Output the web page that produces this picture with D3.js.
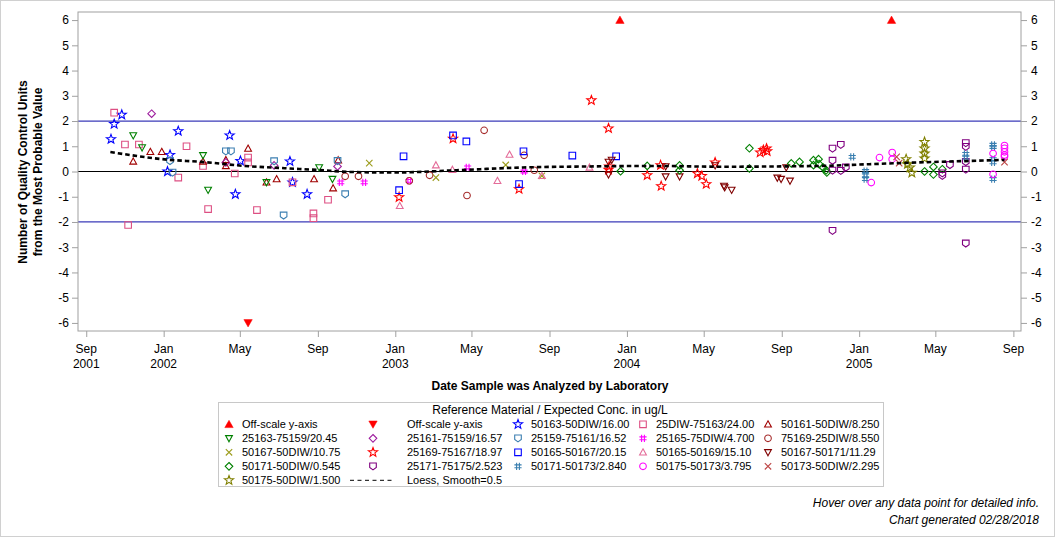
<!DOCTYPE html>
<html><head><meta charset="utf-8">
<script src="https://cdn.jsdelivr.net/npm/d3@7"></script>
<style>
body{margin:0;background:#fff}
text{font-family:"Liberation Sans",Arial,sans-serif;fill:#000}
</style>
</head><body>
<svg id="c" width="1056" height="538"></svg>
<script>
// ---------------- DATA ----------------
const offUp = [["2003-12-21",6],["2005-02-21",6]];
const offDown = [["2002-05-14",-6]];
const s50163_16 = [["2001-10-10",1.28],["2001-10-15",1.88],["2001-10-27",2.25],["2002-01-07",0.0],["2002-01-11",0.66],["2002-01-24",1.6],["2002-04-15",1.43],["2002-04-24",-0.9],["2002-05-02",0.42],["2002-07-19",0.4],["2002-07-23",-0.43],["2002-08-15",-0.9]];
const s25DIW_24 = [["2001-10-15",2.33],["2001-11-01",1.07],["2001-11-06",-2.12],["2001-11-23",1.07],["2002-01-24",-0.24],["2002-02-06",1.0],["2002-03-04",0.22],["2002-03-12",-1.49],["2002-04-23",-0.08],["2002-05-14",0.55],["2002-05-14",0.36],["2002-05-28",-1.53],["2002-07-23",-0.43],["2002-08-25",-1.66],["2002-08-25",-1.85],["2002-09-17",-1.12]];
const s50161_8 = [["2001-11-14",0.4],["2001-12-11",0.78],["2001-12-29",0.78],["2002-03-04",0.4],["2002-04-09",0.46],["2002-04-09",0.22],["2002-05-14",0.91],["2002-06-12",-0.43],["2002-06-28",-0.3],["2002-08-26",-0.3],["2002-09-25",-0.66],["2002-10-03",0.45]];
const s25163_20 = [["2001-11-14",1.43],["2001-11-28",0.95],["2002-03-04",0.64],["2002-03-12",-0.73],["2002-06-12",-0.43],["2002-09-03",0.16],["2002-09-24",-0.3]];
const s25161_16 = [["2001-12-13",2.29],["2002-04-09",0.36],["2002-06-24",0.24],["2002-10-02",0.2]];
const s25159_16 = [["2002-01-11",0.42],["2002-01-15",-0.04],["2002-04-09",0.8],["2002-04-17",0.8],["2002-06-24",0.41],["2002-07-09",-1.74],["2002-10-02",0.42],["2002-10-14",-0.9]];
const s25165_4 = [["2002-10-07",-0.43],["2002-11-13",-0.43],["2003-01-23",-0.37],["2003-04-25",0.16],["2003-07-23",0.0]];
const s75169_8 = [["2002-10-14",-0.19],["2002-11-04",-0.19],["2003-01-23",-0.37],["2003-02-24",-0.15],["2003-04-24",-0.95],["2003-05-21",1.63],["2003-07-23",0.64],["2003-08-08",0.05]];
const s50167_10 = [["2002-11-21",0.33],["2003-03-06",-0.24],["2003-06-24",0.26],["2003-08-20",-0.17]];
const s25169_18 = [["2003-01-07",-1.02],["2003-04-02",1.3],["2003-07-15",-0.7],["2003-11-06",2.82],["2003-12-03",1.71],["2003-12-03",0.07],["2003-12-04",0.2],["2004-02-02",-0.15],["2004-02-23",0.25],["2004-02-24",-0.58],["2004-04-21",-0.08],["2004-04-28",-0.18],["2004-05-05",-0.5],["2004-05-19",0.36],["2004-07-29",0.75],["2004-08-03",0.85],["2004-08-08",0.91],["2004-08-09",0.8]];
const s50165_20 = [["2003-01-07",-0.74],["2003-01-14",0.6],["2003-04-02",1.43],["2003-04-23",1.19],["2003-07-15",-0.5],["2003-07-22",0.8],["2003-10-07",0.63],["2003-12-15",0.6]];
const s50165_15 = [["2003-01-08",-1.36],["2003-03-06",0.25],["2003-04-01",0.07],["2003-06-11",-0.37],["2003-06-30",0.67],["2003-08-20",-0.17],["2003-11-03",0.16]];
const s50167_11 = [["2003-12-03",0.38],["2003-12-08",0.46],["2003-12-03",-0.12],["2004-03-02",0.2],["2004-03-02",-0.2],["2004-03-24",-0.2],["2004-05-19",0.24],["2004-06-02",-0.57],["2004-06-03",-0.63],["2004-06-14",-0.73],["2004-08-25",-0.25],["2004-08-31",-0.3],["2004-09-08",0.16],["2004-09-14",-0.37]];
const s50171_0 = [["2003-12-22",0.01],["2004-02-02",0.22],["2004-03-24",0.24],["2004-03-24",0.05],["2004-07-12",0.92],["2004-07-12",0.12],["2004-09-16",0.32],["2004-09-29",0.38],["2004-10-21",0.45],["2004-10-29",0.49],["2004-10-21",0.25],["2004-10-30",0.29],["2004-11-05",0.16],["2004-11-10",0.05],["2004-11-11",-0.04],["2005-04-14",0.0],["2005-04-28",0.18],["2005-04-28",-0.12],["2005-05-12",0.09]];
const s25171_2 = [["2004-11-20",0.91],["2004-11-20",0.43],["2004-11-20",0.04],["2004-11-20",-2.35],["2004-12-03",1.06],["2004-12-03",0.03],["2004-12-11",0.16],["2005-05-12",-0.07],["2005-05-12",-0.17],["2005-05-24",0.26],["2005-06-18",1.13],["2005-06-18",0.98],["2005-06-18",0.38],["2005-06-18",0.08],["2005-06-18",-2.85]];
const s50171_2 = [["2004-12-21",0.58],["2005-01-11",0.02],["2005-01-11",-0.15],["2005-01-11",-0.3],["2005-06-18",0.7],["2005-06-18",0.55],["2005-07-31",1.06],["2005-07-31",0.97],["2005-07-31",0.49],["2005-07-31",0.36],["2005-07-31",-0.3]];
const s50175_3 = [["2005-01-20",-0.44],["2005-02-02",0.55],["2005-02-22",0.75],["2005-02-22",0.49],["2005-07-31",0.71],["2005-07-31",-0.11],["2005-08-18",1.03],["2005-08-18",0.92],["2005-08-18",0.78],["2005-08-18",0.65],["2005-08-18",0.59]];
const s50173_2 = [["2005-03-01",0.58],["2005-03-05",0.33],["2005-08-18",0.37]];
const s50175_1 = [["2005-03-16",0.49],["2005-03-18",0.29],["2005-03-22",0.16],["2005-03-25",-0.05],["2005-04-14",1.17],["2005-04-14",0.91],["2005-04-14",0.71],["2005-04-14",0.52]];

const loessDates = ["2001-10-09","2002-01-07","2002-03-02","2002-05-09","2002-07-11","2002-09-01","2002-10-24","2003-01-01","2003-04-08","2003-07-21","2003-11-03","2004-02-16","2004-05-27","2004-10-31","2005-01-17","2005-04-06","2005-06-25","2005-08-18"];
const loessValues = [0.77,0.47,0.38,0.22,0.13,0.06,-0.02,-0.04,0.05,0.16,0.20,0.22,0.19,0.22,0.29,0.36,0.42,0.46];

const xTickDates = ["2001-09-01","2002-01-01","2002-05-01","2002-09-01","2003-01-01","2003-05-01","2003-09-01","2004-01-01","2004-05-01","2004-09-01","2005-01-01","2005-05-01","2005-09-01"];
const xTickLabels = [["Sep","2001"],["Jan","2002"],["May"],["Sep"],["Jan","2003"],["May"],["Sep"],["Jan","2004"],["May"],["Sep"],["Jan","2005"],["May"],["Sep"]];
const yTicks = [-6,-5,-4,-3,-2,-1,0,1,2,3,4,5,6];
const refLines = [2,-2];

const seriesNames = ["Off-scale y-axis","Off-scale y-axis","50163-50DIW/16.00","25DIW-75163/24.00","50161-50DIW/8.250",
 "25163-75159/20.45","25161-75159/16.57","25159-75161/16.52","25165-75DIW/4.700","75169-25DIW/8.550",
 "50167-50DIW/10.75","25169-75167/18.97","50165-50167/20.15","50165-50169/15.10","50167-50171/11.29",
 "50171-50DIW/0.545","25171-75175/2.523","50171-50173/2.840","50175-50173/3.795","50173-50DIW/2.295",
 "50175-50DIW/1.500"];
const seriesData = [offUp,offDown,s50163_16,s25DIW_24,s50161_8,
 s25163_20,s25161_16,s25159_16,s25165_4,s75169_8,
 s50167_10,s25169_18,s50165_20,s50165_15,s50167_11,
 s50171_0,s25171_2,s50171_2,s50175_3,s50173_2,
 s50175_1];

// ---------------- STYLE ----------------
const seriesShapes = ["offUp","offDown","star","square","triUp",
 "triDown","diamond","shield","hash","circle",
 "x","star","square","triUp","triDown",
 "diamond","shield","hash","circle","x",
 "star"];
const seriesColors = ["#FF0000","#FF0000","#0000FF","#DD4F83","#A00000",
 "#008000","#9F1F9F","#3C7FB1","#FF00FF","#A52A2A",
 "#9C9C1C","#FF0000","#0000FF","#E46C99","#800000",
 "#008000","#800080","#3A7FB0","#FF00FF","#BD4545",
 "#808000"];

function starPath(R, r){
  const p=[];
  for(let i=0;i<10;i++){const a=-Math.PI/2+i*Math.PI/5;const rad=i%2?r:R;p.push([rad*Math.cos(a),rad*Math.sin(a)]);}
  return "M"+p.map(d=>d.map(v=>v.toFixed(2)).join(",")).join("L")+"Z";
}
const shapePaths = {
  offUp:"M0,-4L4.2,3.3L-4.2,3.3Z",
  offDown:"M0,4L4.2,-3.3L-4.2,-3.3Z",
  triUp:"M0,-3.5L3.4,2.7L-3.4,2.7Z",
  triDown:"M0,3.5L3.4,-2.7L-3.4,-2.7Z",
  square:"M-3.3,-3.3H3.3V3.3H-3.3Z",
  diamond:"M0,-3.8L3.8,0L0,3.8L-3.8,0Z",
  circle:"M3.3,0A3.3,3.3 0 1 1 -3.3,0A3.3,3.3 0 1 1 3.3,0Z",
  x:"M-3.2,-3.2L3.2,3.2M-3.2,3.2L3.2,-3.2",
  hash:"M-1.4,-3.6V3.6M1.4,-3.6V3.6M-3.6,-1.4H3.6M-3.6,1.4H3.6",
  shield:"M-3.3,-3.3H3.3V1.2L0,3.6L-3.3,1.2Z",
  star:starPath(4.8,2.0)
};
const filled = {offUp:true, offDown:true};

// ---------------- CHART ----------------
const svg = d3.select("#c");
const parse = d3.utcParse("%Y-%m-%d");
const L=78, R=1021, T=12, B=331;
const x = d3.scaleUtc().domain([parse("2001-08-19"), parse("2005-09-13")]).range([L,R]);
const y = d3.scaleLinear().domain([-6.32,6.32]).range([B,T]);

// outer border
svg.append("rect").attr("x",0.5).attr("y",0.5).attr("width",1054).attr("height",536)
  .attr("fill","none").attr("stroke","#D0D0D0");

// reference lines
svg.selectAll("line.ref").data(refLines).join("line").attr("class","ref")
  .attr("x1",L).attr("x2",R).attr("y1",d=>y(d)).attr("y2",d=>y(d))
  .attr("stroke","#3B3BB8").attr("stroke-width",1.2);
svg.append("line").attr("x1",L).attr("x2",R).attr("y1",y(0)).attr("y2",y(0))
  .attr("stroke","#000").attr("stroke-width",1.2);

// frame
svg.append("rect").attr("x",L).attr("y",T).attr("width",R-L).attr("height",B-T)
  .attr("fill","none").attr("stroke","#A0A0A0");

// axes
function styleAxis(g){
  g.select(".domain").remove();
  g.selectAll(".tick line").attr("stroke","#A0A0A0");
  g.selectAll(".tick text").style("font-size","12px").attr("fill","#000");
}
const gx = svg.append("g").attr("transform",`translate(0,${B})`)
  .call(d3.axisBottom(x).tickValues(xTickDates.map(parse)).tickSize(6).tickFormat(""));
styleAxis(gx);
const xl = svg.append("g").selectAll("text").data(xTickDates).join("text")
  .attr("x",d=>x(parse(d))).attr("y",353).attr("text-anchor","middle").style("font-size","12px");
xl.each(function(d,i){
  const t=d3.select(this);
  xTickLabels[i].forEach((s,j)=>t.append("tspan").attr("x",x(parse(d))).attr("y",353+j*14.5).text(s));
});
const gyl = svg.append("g").attr("transform",`translate(${L},0)`)
  .call(d3.axisLeft(y).tickValues(yTicks).tickSize(6).tickPadding(3).tickFormat(d=>String(d)));
styleAxis(gyl);
const gyr = svg.append("g").attr("transform",`translate(${R},0)`)
  .call(d3.axisRight(y).tickValues(yTicks).tickSize(6).tickPadding(4).tickFormat(d=>String(d)));
styleAxis(gyr);

// axis titles
svg.append("text").attr("x",550).attr("y",390).attr("text-anchor","middle")
  .style("font-size","12px").style("font-weight","bold").text("Date Sample was Analyzed by Laboratory");
const yt = svg.append("text").attr("transform","translate(0,172) rotate(-90)").attr("text-anchor","middle")
  .style("font-size","12px").style("font-weight","bold");
yt.append("tspan").attr("x",0).attr("y",27).text("Number of Quality Control Units");
yt.append("tspan").attr("x",0).attr("y",41.5).text("from the Most Probable Value");

// points
seriesData.forEach((data,i)=>{
  const shp=seriesShapes[i], col=seriesColors[i];
  svg.append("g").selectAll("path").data(data).join("path")
    .attr("transform",d=>`translate(${x(parse(d[0]))},${y(d[1])})`)
    .attr("d",shapePaths[shp])
    .attr("fill",filled[shp]?col:"none")
    .attr("stroke",col).attr("stroke-width",filled[shp]?0.5:1.1);
});

// loess
const loessLine = d3.line().curve(d3.curveMonotoneX).x(d=>x(parse(d[0]))).y(d=>y(d[1]));
svg.append("path").attr("d",loessLine(loessDates.map((d,i)=>[d,loessValues[i]])))
  .attr("fill","none").attr("stroke","#000").attr("stroke-width",2.6).attr("stroke-dasharray","4.5,3");

// legend
svg.append("rect").attr("x",218.5).attr("y",402.5).attr("width",665).attr("height",84)
  .attr("fill","none").attr("stroke","#C8C8C8");
svg.append("text").attr("x",550).attr("y",414).attr("text-anchor","middle").style("font-size","12px")
  .text("Reference Material / Expected Conc. in ug/L");
const colSym=[229,373,518,643,768], colTxt=[242,407,531,656,781], rowY=[424.3,438.3,452.3,466.3,480.3];
const lg = svg.append("g");
seriesNames.forEach((n,i)=>{
  const c=i%5, r=Math.floor(i/5), shp=seriesShapes[i], col=seriesColors[i];
  lg.append("path").attr("transform",`translate(${colSym[c]},${rowY[r]})`).attr("d",shapePaths[shp])
    .attr("fill",filled[shp]?col:"none").attr("stroke",col).attr("stroke-width",filled[shp]?0.5:1.1);
  lg.append("text").attr("x",colTxt[c]).attr("y",rowY[r]+4).style("font-size","11px").text(n);
});
lg.append("line").attr("x1",350).attr("x2",395).attr("y1",rowY[4]).attr("y2",rowY[4])
  .attr("stroke","#000").attr("stroke-width",1).attr("stroke-dasharray","4,3.5");
lg.append("text").attr("x",colTxt[1]).attr("y",rowY[4]+4).style("font-size","11px").text("Loess, Smooth=0.5");

// footnotes
svg.append("text").attr("x",1039).attr("y",507).attr("text-anchor","end").style("font-size","12px").style("font-style","italic")
  .text("Hover over any data point for detailed info.");
svg.append("text").attr("x",1039).attr("y",524).attr("text-anchor","end").style("font-size","12px").style("font-style","italic")
  .text("Chart generated 02/28/2018");
</script>
</body></html>
